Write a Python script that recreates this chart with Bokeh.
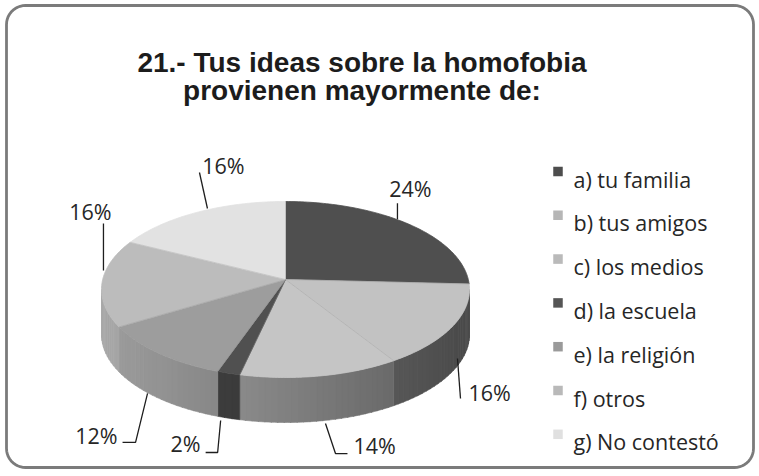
import numpy as np
from bokeh.plotting import figure
from bokeh.models import Range1d
from bokeh.core.properties import value
from bokeh.embed import file_html
from bokeh.resources import INLINE

# ---------------- data ----------------
title_lines = ["21.- Tus ideas sobre la homofobia", "provienen mayormente de:"]
categories = ["a) tu familia", "b)  tus amigos", "c)  los medios", "d) la escuela",
              "e) la religión", "f)  otros", "g) No contestó"]
percent = [24, 16, 14, 2, 12, 16, 16]

# ---------------- styles ----------------
top_colors = ["#4f4f4f", "#c2c2c2", "#c5c5c5", "#505050", "#9d9d9d", "#bcbcbc", "#e2e2e2"]
side_base = [90, 106, 129, 55, 122, 130, 200]       # grey level of the wall at the front
legend_colors = ["#4d4d4d", "#b6b6b6", "#bababa", "#555555", "#9a9a9a", "#b9b9b9", "#e0e0e0"]
text_color = "#262626"
label_font = "Open Sans"

W, H = 759, 476
p = figure(width=W, height=H, output_backend="svg", toolbar_location=None,
           x_range=Range1d(0, W), y_range=Range1d(H, 0),
           min_border=0, outline_line_color=None)
p.axis.visible = False
p.grid.visible = False
p.background_fill_color = "white"
p.border_fill_color = "white"

# rounded frame
fx0, fx1, fy0, fy1, rad = 6, 753, 5, 467, 19
fxs, fys = [], []
corners = [(fx1 - rad, fy0 + rad, -90, 0), (fx1 - rad, fy1 - rad, 0, 90),
           (fx0 + rad, fy1 - rad, 90, 180), (fx0 + rad, fy0 + rad, 180, 270)]
for ccx, ccy, a0, a1 in corners:
    for a in np.linspace(np.radians(a0), np.radians(a1), 12):
        fxs.append(ccx + rad * np.cos(a))
        fys.append(ccy + rad * np.sin(a))
fxs.append(fxs[0]); fys.append(fys[0])
p.line(fxs, fys, line_color="#7b7b7b", line_width=2.8)

# ---------------- pie geometry ----------------
cx, cy, rx, ry, depth = 285.0, 289.0, 184.0, 88.0, 45.0
vx, vy = 285.0, 279.0
frac = np.array(percent, dtype=float) / sum(percent)
edges = np.concatenate([[0.0], np.cumsum(frac)]) * 2 * np.pi


def ex(t):
    return cx + rx * np.sin(t)


def ey(t):
    return cy - ry * np.cos(t)


# side walls (front half only)
sxs, sys_, scol = [], [], []
for i in range(len(percent)):
    t0 = max(edges[i], np.pi / 2)
    t1 = min(edges[i + 1], 3 * np.pi / 2)
    if t1 <= t0:
        continue
    n = max(2, int(np.degrees(t1 - t0) / 2) + 1)
    ts = np.linspace(t0, t1, n)
    for k in range(n - 1):
        seg = np.linspace(ts[k], ts[k + 1] + (0.004 if k < n - 2 else 0), 3)
        xs = list(ex(seg)) + list(ex(seg[::-1]))
        ys = list(ey(seg)) + list(ey(seg[::-1]) + depth)
        tm = 0.5 * (ts[k] + ts[k + 1])
        g = int(np.clip(side_base[i] * (1 - 0.3 * np.sin(tm)), 0, 255))
        sxs.append(xs); sys_.append(ys); scol.append("#%02x%02x%02x" % (g, g, g))
p.patches(sxs, sys_, fill_color=scol, line_color=scol, line_width=0.6)

# top surfaces
txs, tys = [], []
for i in range(len(percent)):
    ts = np.linspace(edges[i], edges[i + 1], max(3, int(np.degrees(edges[i + 1] - edges[i])) + 2))
    txs.append([vx] + list(ex(ts)))
    tys.append([vy] + list(ey(ts)))
p.patches(txs, tys, fill_color=top_colors, line_color=top_colors, line_width=0.8)
# faint slice separators
for i in range(len(percent)):
    p.line([vx, ex(edges[i])], [vy, ey(edges[i])], line_color="#8a8a8a", line_alpha=0.35, line_width=0.8)

# ---------------- data labels with leader lines ----------------
leader_offsets = [
    [(-14, -6), (-14, -22)],
    [(5.5, 31.5), (8.5, 71.5)],
    [(5.5, 47.6), (15.5, 77.6), (27.5, 77.6)],
    [(-8, 47.3), (-11, 79.3), (-23, 79.3)],
    [(-12, 39.8), (-24, 88.8), (-37, 88.8)],
    [(1.6, -13.5), (1.6, -60.5)],
    [(10.6, -3.9), (2.6, -39.9)],
]
label_offsets = [(-1, -37, "center"), (16.5, 65.5, "left"), (33.5, 69.6, "left"),
                 (-28, 70.3, "right"), (-42, 81.8, "right"), (-11.4, -72.5, "center"),
                 (26.6, -46.9, "center")]
for i in range(len(percent)):
    tm = 0.5 * (edges[i] + edges[i + 1])
    ax_, ay_ = ex(tm), ey(tm)
    pts = leader_offsets[i]
    p.line([ax_ + dx for dx, dy in pts], [ay_ + dy for dx, dy in pts],
           line_color="#1e1e1e", line_width=1.3)
    dx, dy, al = label_offsets[i]
    p.text([ax_ + dx], [ay_ + dy], text=[f"{percent[i]}%"], text_font=value(label_font),
           text_font_size="21.5px", text_align=al, text_baseline="middle",
           text_color=text_color)

# ---------------- legend ----------------
leg_y0, leg_dy = 171.0, 43.8
leg_ys = [leg_y0 + k * leg_dy for k in range(len(categories))]
p.rect([557.5] * len(categories), leg_ys, width=9.5, height=9.5,
       fill_color=legend_colors, line_color=None)
p.text([573] * len(categories), [y + 7.5 for y in leg_ys], text=categories,
       text_font=value(label_font), text_font_size="21.5px", text_align="left",
       text_baseline="alphabetic", text_color=text_color)

# ---------------- title ----------------
p.text([361.5, 361.5], [62, 90], text=title_lines, text_font=value("Liberation Sans"),
       text_font_size="28px", text_font_style="bold", text_align="center",
       text_baseline="alphabetic", text_color="#1c1c1c")

open("out.html", "w").write(file_html(p, INLINE))
